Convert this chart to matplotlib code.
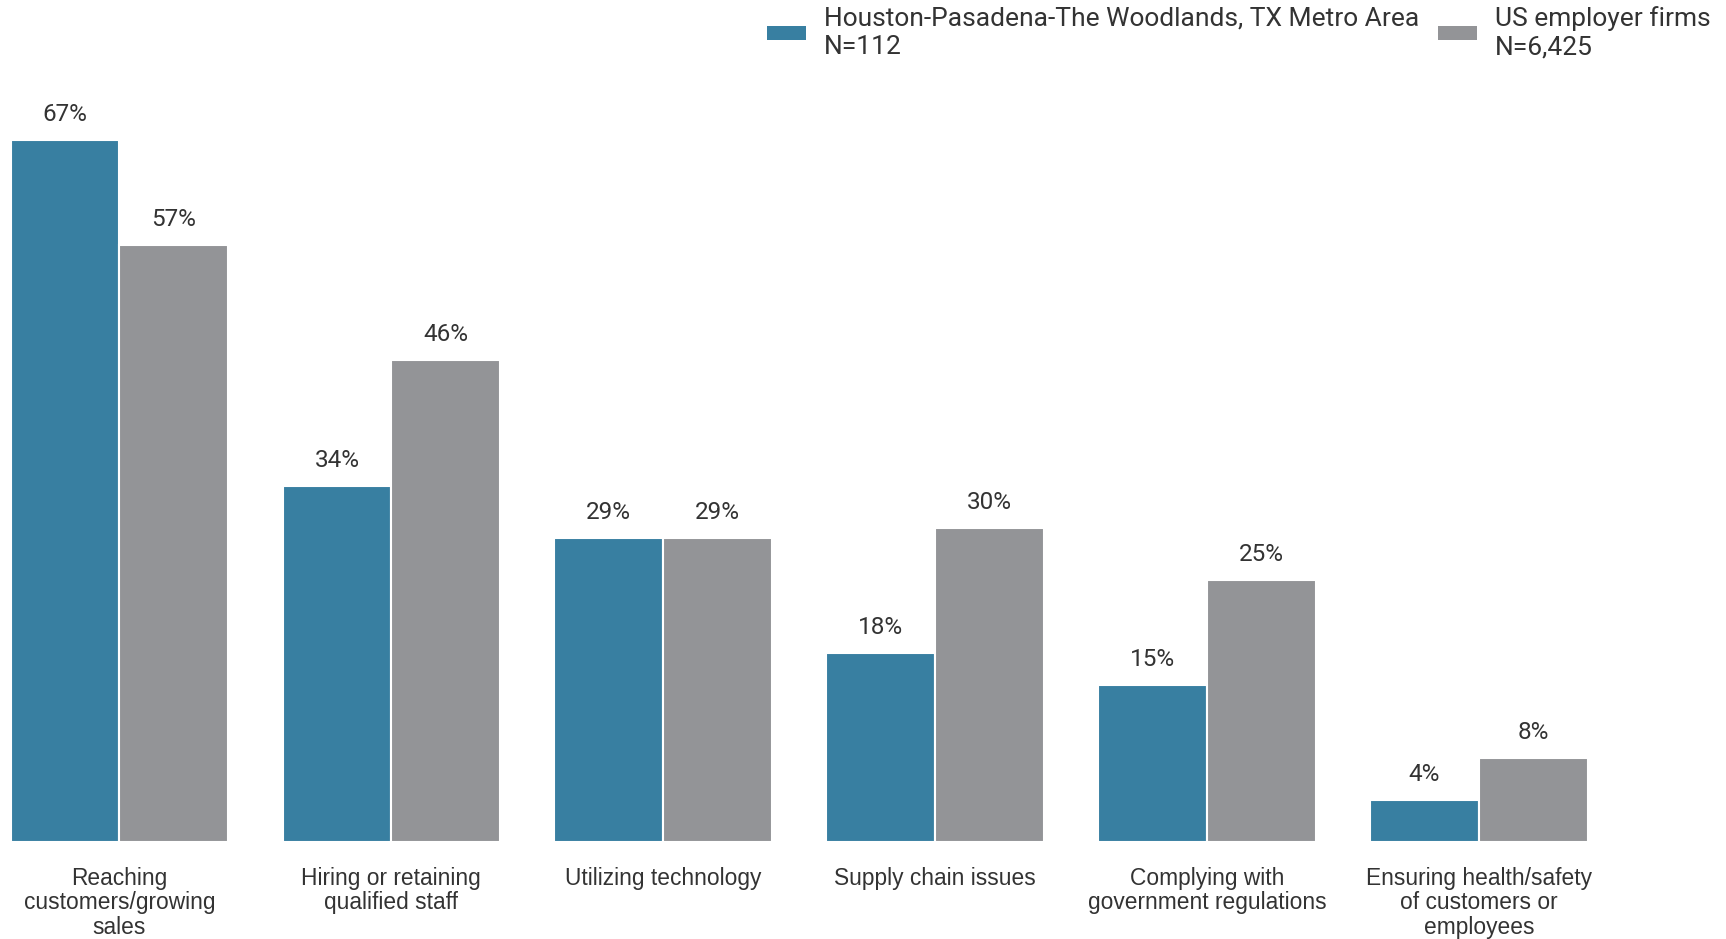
import numpy as np
import matplotlib
matplotlib.use('Agg')
import matplotlib.pyplot as plt
from matplotlib.patches import Patch

categories = [
    'Reaching\ncustomers/growing\nsales',
    'Hiring or retaining\nqualified staff',
    'Utilizing technology',
    'Supply chain issues',
    'Complying with\ngovernment regulations',
    'Ensuring health/safety\nof customers or\nemployees',
]
houston = [67, 34, 29, 18, 15, 4]
us_firms = [57, 46, 29, 30, 25, 8]
series_names = ['Houston-Pasadena-The Woodlands, TX Metro Area\nN=112',
                'US employer firms\nN=6,425']

blue = '#387fa1'
gray = '#939497'
text_col = '#333333'

fig = plt.figure(figsize=(17.26, 9.39), dpi=100)
ax = fig.add_axes([0, 0.1033, 1, 0.893])

x = np.arange(len(categories))
w = 0.4
b1 = ax.bar(x - w/2, houston, w, color=blue, edgecolor='white', linewidth=1.5)
b2 = ax.bar(x + w/2, us_firms, w, color=gray, edgecolor='white', linewidth=1.5)

for bars in (b1, b2):
    ax.bar_label(bars, labels=[f'{v}%' for v in bars.datavalues], padding=10,
                 fontsize=17.5, family='Roboto', color=text_col)

ax.set_xlim(-0.439, 5.909)
ax.set_ylim(0, 80)
ax.set_xticks(x)
ax.set_xticklabels(categories, fontsize=16.4, family='Liberation Sans',
                   color=text_col, linespacing=1.07)
ax.tick_params(axis='x', length=0, pad=18)
ax.set_yticks([])
for s in ax.spines.values():
    s.set_visible(False)

handles = [Patch(facecolor=blue), Patch(facecolor=gray)]
fig.legend(handles, series_names, loc='upper right', bbox_to_anchor=(1.0, 1.01),
           ncol=2, frameon=False, prop={'family': 'Roboto', 'size': 19},
           handlelength=1.48, handleheight=0.42, handletextpad=0.68,
           columnspacing=0.68, labelcolor=text_col, borderaxespad=0.2)

fig.savefig('out.png', dpi=100)
